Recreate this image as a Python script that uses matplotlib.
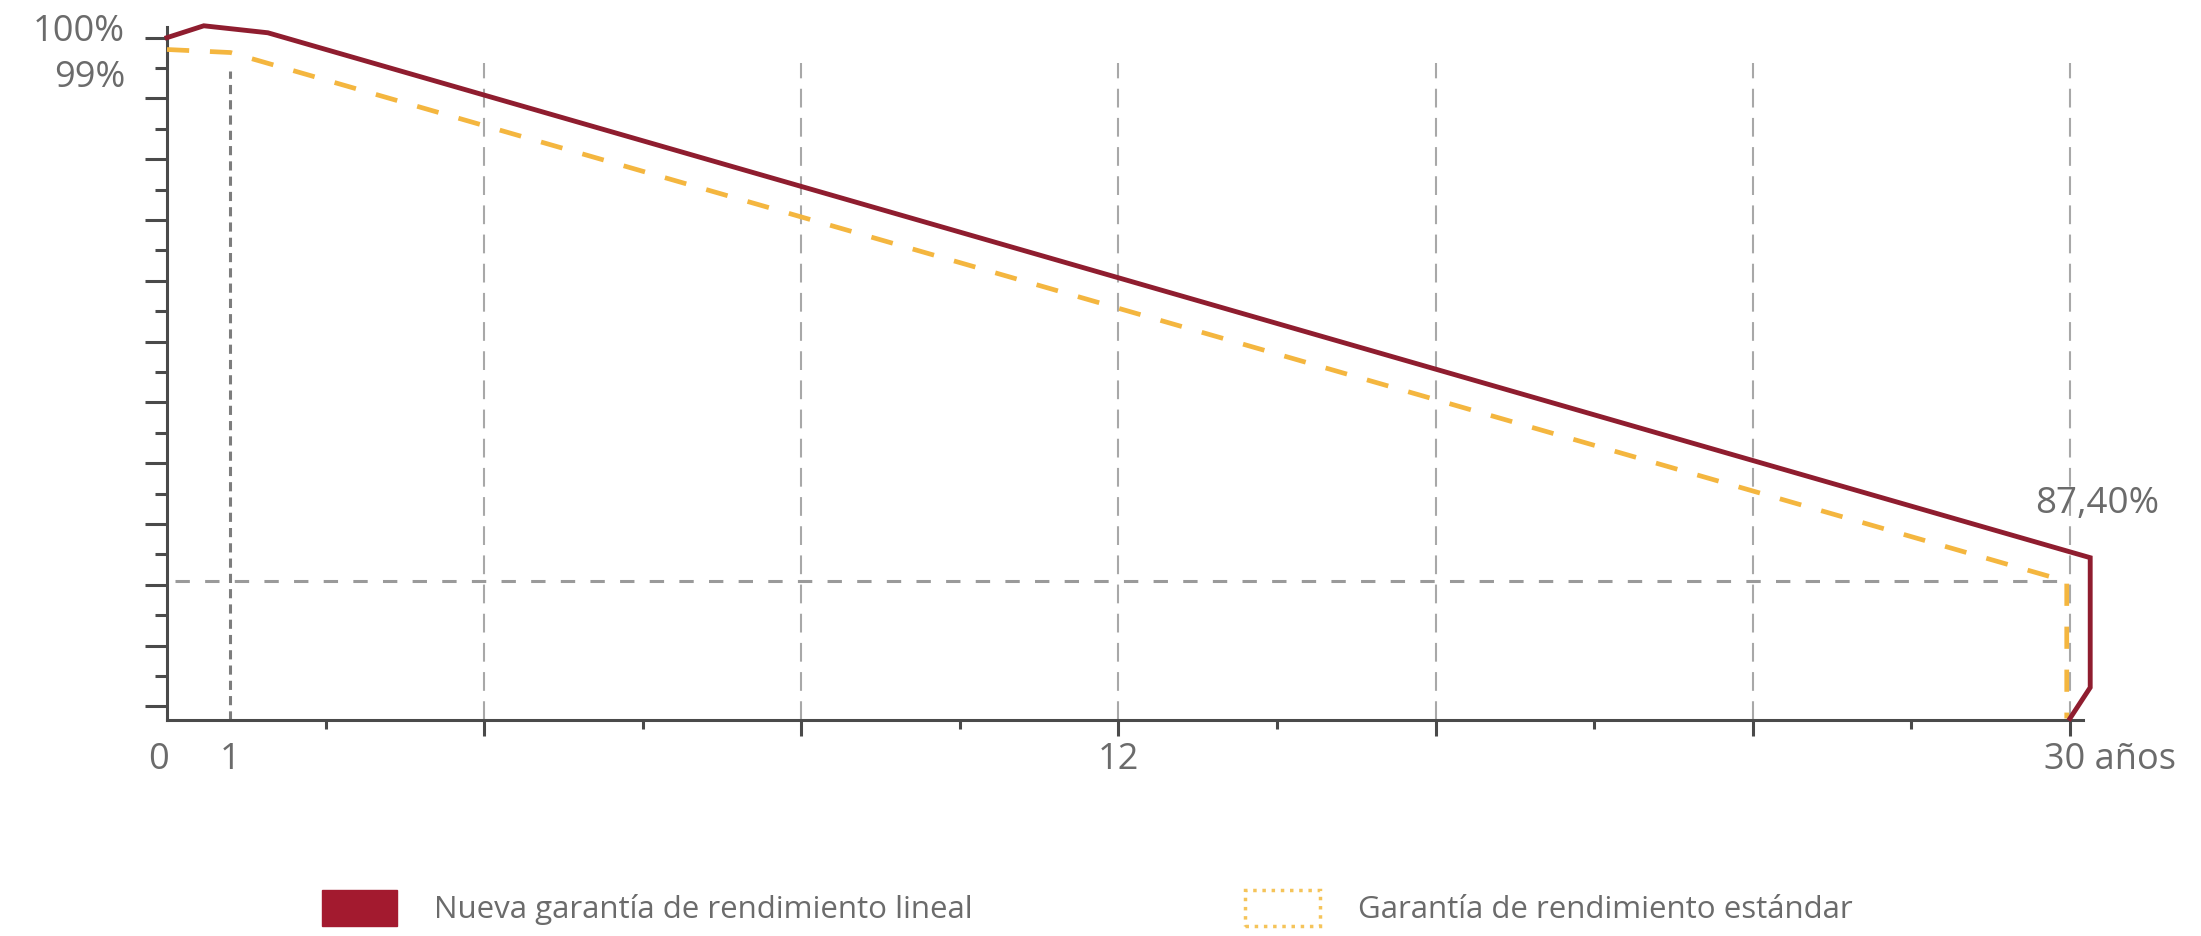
import matplotlib
matplotlib.use("Agg")
import matplotlib.pyplot as plt
import matplotlib.transforms as mtransforms
from matplotlib.patches import Patch

plt.rcParams['font.family'] = ['Open Sans', 'DejaVu Sans']

# ---- data ----
years_new = [0, 0.58, 1.59, 30.32, 30.32, 30.0]
vals_new = [100.0, 100.39, 100.16, 82.89, 78.62, 77.6]
years_std = [0, 1, 29.95, 29.95]
vals_std = [99.61, 99.51, 82.11, 77.6]
ref_level = 82.11
end_label = "87,40%"
y_ticks = list(range(100, 77, -1))
y_tick_labels = ["100%", "99%"] + [""] * (len(y_ticks) - 2)
x_ticks = [0, 1, 5, 10, 15, 20, 25, 30]
x_tick_labels = ["0", "1", "", "", "12", "", "", "30 años"]
x_minor = [2.5, 7.5, 12.5, 17.5, 22.5, 27.5]
grid_years = [5, 10, 15, 20, 25, 30]
legend_labels = ["Nueva garantía de rendimiento lineal", "Garantía de rendimiento estándar"]

RED = "#8f1d2f"
RED_PATCH = "#a31a2f"
YEL = "#f4b63f"
TXT = "#6b6b6b"
AX = "#4a4a4a"

W, H = 2201, 936
fig = plt.figure(figsize=(W / 100, H / 100), dpi=100)
ax = fig.add_axes([167 / W, (936 - 720) / H, 1915.6 / W, 693 / H])
ax.set_xlim(0, 30.2)
ax.set_ylim(77.55, 100.35)

for s in ["top", "right"]:
    ax.spines[s].set_visible(False)
for s in ["left", "bottom"]:
    ax.spines[s].set_color(AX)
    ax.spines[s].set_linewidth(2.2)

# grid lines
ax.vlines(grid_years, 77.55, 99.18, colors="#a8a8a8", linewidth=1.5,
          linestyles=(0, (9, 5)), zorder=1)
ax.vlines([1], 77.55, 98.9, colors="#7d7d7d", linewidth=2.2,
          linestyles=(0, (3, 2)), zorder=1)
ax.hlines([ref_level], 0.13, 29.9, colors="#9a9a9a", linewidth=2.2,
          linestyles=(0, (4.7, 5)), zorder=1)

# series
ax.plot(years_std, vals_std, color=YEL, linewidth=3.4, dashes=(4.7, 4.4),
        zorder=3, clip_on=False)
ax.plot(years_new, vals_new, color=RED, linewidth=3.5, zorder=4,
        clip_on=False, solid_joinstyle="miter")

ax.annotate(end_label, xy=(years_new[3], vals_new[3]), xytext=(5.0, 38.5),
            textcoords="offset points", ha="center", va="center",
            fontsize=26.5, color=TXT, annotation_clip=False)

# y ticks
ax.set_yticks(y_ticks)
ax.set_yticklabels(y_tick_labels)
ax.tick_params(axis="y", direction="out", length=15.8, width=2.2, color=AX,
               pad=14.4, labelsize=26, labelcolor=TXT)
for i, t in enumerate(ax.yaxis.get_major_ticks()):
    if i % 2 == 1:
        t.tick1line.set_markersize(8.6)
ylabs = ax.get_yticklabels()
ylabs[0].set_transform(ylabs[0].get_transform() +
                       mtransforms.ScaledTranslation(0, 10 / 100, fig.dpi_scale_trans))
ylabs[1].set_transform(ylabs[1].get_transform() +
                       mtransforms.ScaledTranslation(0, -5 / 100, fig.dpi_scale_trans))

# x ticks
ax.set_xticks(x_ticks)
ax.set_xticklabels(x_tick_labels)
ax.set_xticks(x_minor, minor=True)
ax.tick_params(axis="x", which="major", direction="out", length=11.5, width=2.2,
               color=AX, pad=4.3, labelsize=26, labelcolor=TXT)
ax.tick_params(axis="x", which="minor", direction="out", length=6.5, width=2.2,
               color=AX)
xt = ax.xaxis.get_major_ticks()
xt[0].tick1line.set_markersize(0)
xt[1].tick1line.set_markersize(0)
xlabs = ax.get_xticklabels()
xlabs[0].set_transform(xlabs[0].get_transform() +
                       mtransforms.ScaledTranslation(-9 / 100, 0, fig.dpi_scale_trans))
xlabs[-1].set_horizontalalignment("left")
xlabs[-1].set_transform(xlabs[-1].get_transform() +
                        mtransforms.ScaledTranslation(-26 / 100, 0, fig.dpi_scale_trans))

# legend
handles = [
    Patch(facecolor=RED_PATCH, edgecolor=RED_PATCH),
    Patch(facecolor="none", edgecolor="#f5c45a", linestyle=":", linewidth=2.5),
]
fs = 22.5
fig.legend(handles, legend_labels, loc="center left",
           bbox_to_anchor=(322 / W, 1 - 908 / H), ncol=2, frameon=False,
           fontsize=fs, labelcolor=TXT, borderpad=0, borderaxespad=0,
           handlelength=2.4, handleheight=1.35, handletextpad=1.2,
           columnspacing=8.7)

fig.savefig("out.png", dpi=100)
